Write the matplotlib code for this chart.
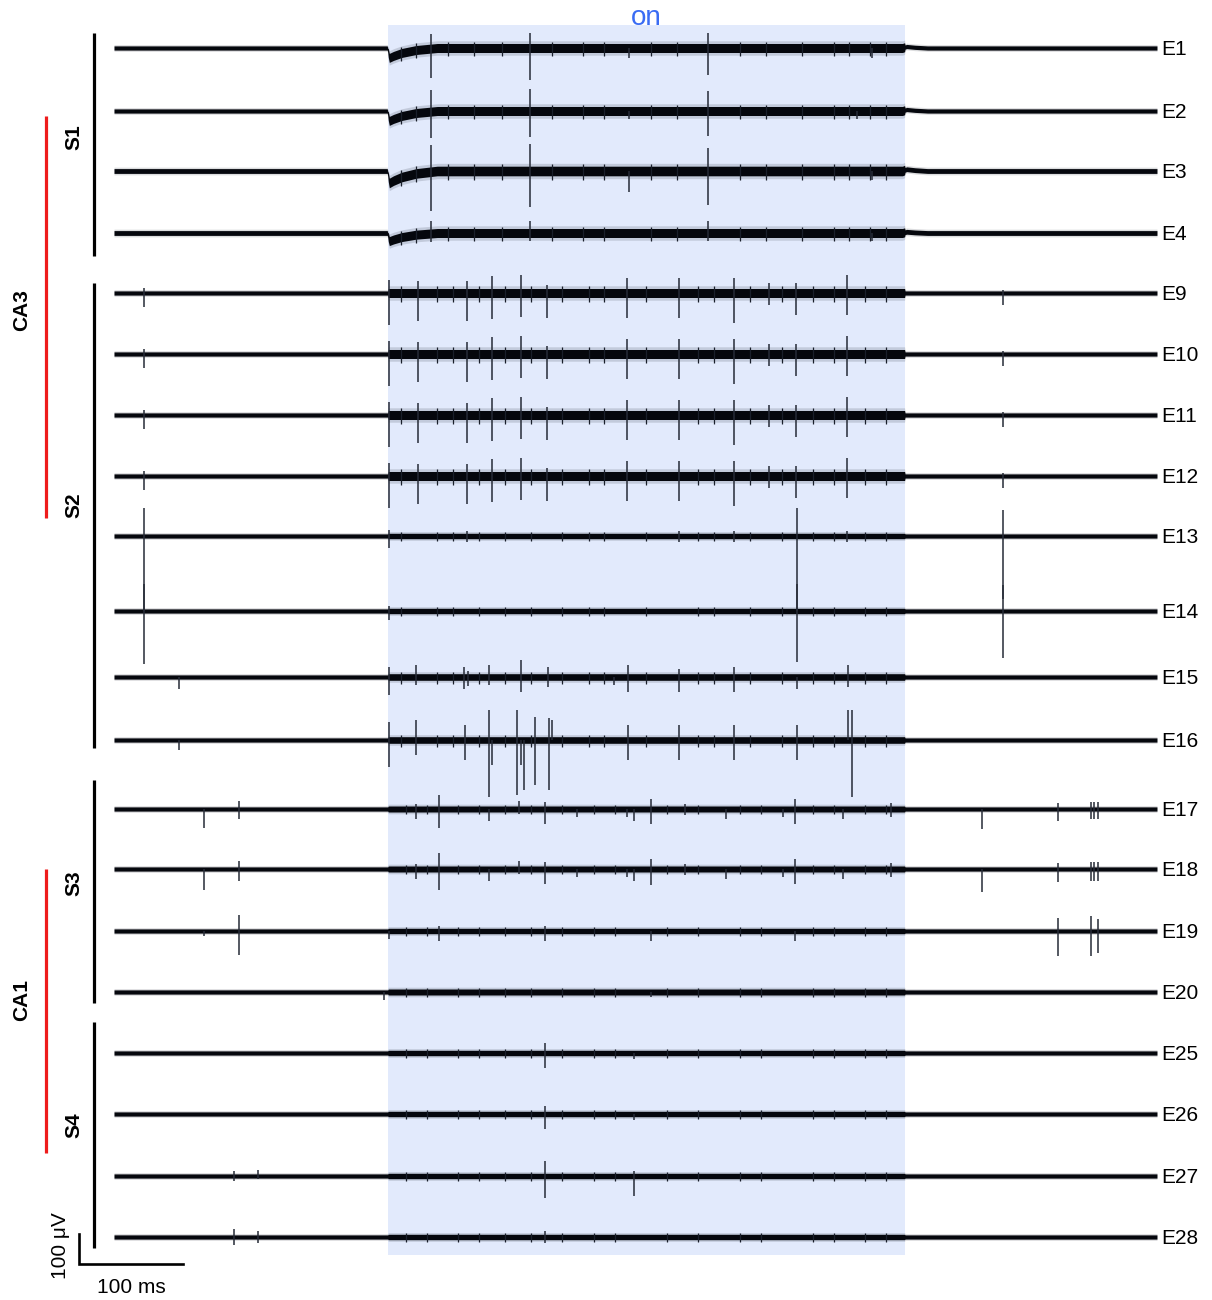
import matplotlib.pyplot as plt
import numpy as np

plt.rcParams['font.family'] = ['Liberation Sans', 'DejaVu Sans']

# ---- data (ms, uV) ----
channels = ['E1', 'E2', 'E3', 'E4', 'E9', 'E10', 'E11', 'E12', 'E13', 'E14',
            'E15', 'E16', 'E17', 'E18', 'E19', 'E20', 'E25', 'E26', 'E27', 'E28']
stim_on, stim_off = 263, 758
trace_len = 1000

# noise band half widths: (outside core, stim core), uV
noise_out = [7, 7, 8, 8, 7, 7, 7, 7, 7, 7, 7, 7, 7, 7, 7, 7, 7, 7, 7, 7]
noise_in = [15, 15, 16, 15, 15, 15, 15, 15, 9, 9, 11, 11, 10, 10, 9, 10, 9, 9, 9, 9]

# light-onset artefact on shank S1 (shape, scaled per channel)
artefact_t = [262, 264, 268, 276, 290, 310, 756, 760, 768, 780]
artefact_v = [0, -1.0, -0.8, -0.5, -0.2, 0, 0, 0.15, 0.07, 0]
artefact_depth = [33, 33, 40, 27]

# small deflections during light (time ms), shared by group
minor_s1 = [275, 290, 320, 345, 372, 420, 450, 470, 515, 540, 600, 625, 660, 690,
            705, 725, 740]
minor_s2 = [275, 310, 325, 350, 375, 400, 430, 455, 470, 510, 560, 575, 610, 640,
            670, 690, 720, 740]
minor_s34 = [280, 300, 330, 350, 375, 400, 430, 460, 480, 530, 560, 600, 620, 670,
             690, 720, 740]
minor_amp = [27, 27, 30, 27, 30, 30, 30, 30, 17, 17, 22, 22, 17, 17, 15, 17, 15, 15, 15, 15]

# spikes: (time ms, up uV, down uV)
s2_unit = [(29, 15, 45), (264, 43, 107), (291, 40, 93), (338, 40, 93), (362, 57, 87),
           (390, 60, 80), (415, 27, 83), (492, 50, 83), (542, 50, 83), (594, 50, 100),
           (628, 33, 40), (654, 33, 73), (703, 60, 73), (852, 10, 40)]
spikes = {
    'E1': [(304, 50, 97), (399, 50, 107), (494, 0, 33), (570, 50, 90), (727, 0, 33)],
    'E2': [(304, 73, 87), (399, 73, 87), (494, 0, 27), (570, 67, 83), (712, 0, 25)],
    'E3': [(304, 90, 130), (399, 90, 120), (494, 0, 70), (570, 77, 113), (727, 0, 30)],
    'E4': [(304, 43, 27), (399, 40, 27), (570, 40, 27), (727, 0, 25)],
    'E9': s2_unit, 'E10': s2_unit, 'E11': s2_unit, 'E12': s2_unit,
    'E13': [(29, 93, 250), (264, 20, 40), (338, 17, 20), (542, 17, 20), (594, 17, 20),
            (655, 93, 250), (703, 17, 20), (852, 87, 210)],
    'E14': [(29, 90, 177), (264, 17, 30), (655, 90, 170), (852, 87, 157)],
    'E15': [(62, 0, 40), (264, 33, 60), (290, 40, 27), (336, 33, 40), (339, 20, 30),
            (360, 40, 27), (390, 57, 50), (416, 33, 33), (479, 0, 27), (493, 40, 50),
            (542, 27, 50), (594, 33, 50), (655, 0, 40), (704, 40, 33)],
    'E16': [(62, 0, 33), (264, 60, 90), (290, 67, 50), (337, 50, 67), (360, 100, 190),
            (362, 0, 83), (386, 100, 183), (390, 0, 83), (393, 0, 167), (404, 77, 150),
            (417, 73, 167), (420, 67, 0), (493, 50, 67), (542, 50, 67), (594, 50, 67),
            (655, 50, 67), (704, 100, 0), (708, 100, 190)],
    'E17': [(86, 0, 63), (120, 27, 33), (290, 17, 33), (312, 47, 63), (360, 0, 40),
            (388, 27, 17), (413, 23, 50), (444, 0, 27), (492, 0, 27), (499, 0, 40),
            (515, 33, 50), (547, 17, 20), (587, 0, 33), (641, 0, 27), (653, 33, 50),
            (699, 0, 33), (745, 20, 27), (832, 0, 67), (905, 20, 40), (937, 23, 33),
            (940, 23, 33), (943, 23, 33)],
    'E18': [(86, 0, 70), (120, 27, 40), (290, 17, 33), (312, 53, 70), (360, 0, 40),
            (388, 27, 17), (413, 23, 50), (444, 0, 27), (492, 0, 27), (499, 0, 40),
            (515, 33, 53), (547, 17, 20), (587, 0, 33), (641, 0, 27), (653, 33, 50),
            (699, 0, 33), (745, 20, 27), (832, 0, 77), (905, 20, 43), (937, 23, 40),
            (940, 23, 40), (943, 23, 40)],
    'E19': [(86, 0, 17), (120, 53, 80), (264, 0, 27), (312, 17, 33), (413, 17, 33),
            (515, 0, 33), (653, 0, 33), (905, 43, 83), (937, 50, 83), (943, 40, 73)],
    'E20': [(259, 0, 27), (515, 0, 17)],
    'E25': [(413, 33, 50), (499, 0, 20)],
    'E26': [(413, 27, 50), (499, 0, 20)],
    'E27': [(115, 17, 17), (138, 20, 10), (413, 50, 73), (499, 17, 67)],
    'E28': [(115, 27, 27), (138, 20, 20), (413, 20, 20)],
}

# ---- layout ----
# pixel -> data helpers (figure is 1212 x 1300 px)
def px_t(x):
    return (x - 114) * 0.9588

def px_v(y):
    return -(y - 48) * 3.333

trace_y = [48, 111, 171, 233, 293, 354, 415, 476, 536, 611,
           677, 740, 809, 869, 931, 992, 1053, 1114, 1176, 1237]
offsets = [px_v(y) for y in trace_y]

fig = plt.figure(figsize=(12.12, 13), dpi=100)
ax = fig.add_axes([0, 0, 1, 1])
ax.set_xlim(px_t(0), px_t(1212))
ax.set_ylim(px_v(1300), px_v(0))
ax.axis('off')

# stimulation window
ax.fill_between([stim_on, stim_off], px_v(1255), px_v(25), color='#e2eafc', lw=0, zorder=0)
ax.text((stim_on + stim_off) / 2, px_v(18), 'on', color='#3a6cf4', fontsize=20,
        ha='center', va='center')

t = np.arange(0, trace_len + 0.5, 0.5)
in_stim = (t >= stim_on) & (t <= stim_off)

for i, ch in enumerate(channels):
    off = offsets[i]
    base = np.zeros_like(t)
    if i < 4:
        base = np.interp(t, artefact_t, artefact_v) * artefact_depth[i]
    core = np.where(in_stim, noise_in[i], noise_out[i])
    fringe = core * 1.6
    ax.fill_between(t, off + base - fringe, off + base + fringe, color='#111522',
                    alpha=0.15, lw=0, zorder=2)
    ax.fill_between(t, off + base - core, off + base + core, color='#05070d',
                    lw=0, zorder=3)

    # small deflections during light
    minor = minor_s1 if i < 4 else (minor_s2 if i < 12 else minor_s34)
    mt = np.array(minor, dtype=float)
    mb = np.interp(mt, t, base)
    ax.vlines(mt, off + mb - minor_amp[i], off + mb + minor_amp[i] * 0.8,
              color='#1a1f2b', lw=0.9, zorder=3)

    sp = spikes[ch]
    st = np.array([s[0] for s in sp], dtype=float)
    sb = np.interp(st, t, base)
    ax.vlines(st, off + sb - np.array([s[2] for s in sp]), off + sb + np.array([s[1] for s in sp]),
              color='#262b37', lw=1.1, zorder=4)
    ax.text(px_t(1161), off - 5, ch, fontsize=15, ha='left', va='center')

# shank bars and labels
shanks = ['S1', 'S2', 'S3', 'S4']
shank_span = [(33, 256), (283, 748), (780, 1003), (1022, 1248)]
shank_label_y = [137, 505, 883, 1125]
for name, (y0, y1), ly in zip(shanks, shank_span, shank_label_y):
    ax.plot([px_t(94), px_t(94)], [px_v(y0), px_v(y1)], color='black', lw=2.3,
            solid_capstyle='butt')
    ax.text(px_t(74), px_v(ly), name, rotation=90, fontsize=15, fontweight='bold',
            ha='center', va='center')

regions = ['CA3', 'CA1']
region_span = [(116, 518), (869, 1153)]
region_label_y = [310, 1000]
for name, (y0, y1), ly in zip(regions, region_span, region_label_y):
    ax.plot([px_t(46), px_t(46)], [px_v(y0), px_v(y1)], color='#ee1c1c', lw=2.3,
            solid_capstyle='butt')
    ax.text(px_t(22), px_v(ly), name, rotation=90, fontsize=15, fontweight='bold',
            ha='center', va='center')

# scale bars: 100 ms, 100 uV
x0, y0 = px_t(79), px_v(1264)
ax.plot([x0, x0, x0 + 100], [y0 + 100, y0, y0], color='black', lw=1.9,
        solid_joinstyle='miter')
ax.text(px_t(61), y0 + 60, '100 μV', rotation=90, fontsize=15, ha='center', va='center')
ax.text(x0 + 50, px_v(1287), '100 ms', fontsize=15, ha='center', va='center')

fig.savefig('out.png', dpi=100)
